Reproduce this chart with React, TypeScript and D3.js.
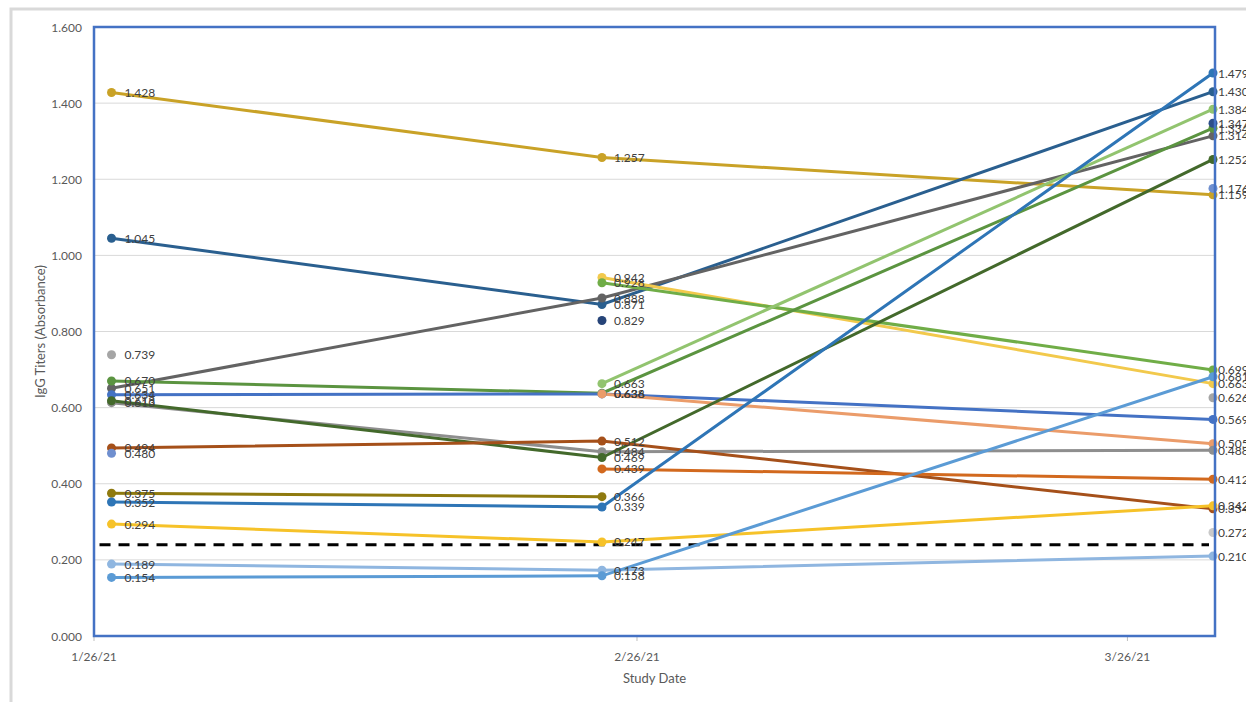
import React from "react";
import * as d3 from "d3";

const dates = ["2021-01-27", "2021-02-24", "2021-03-31"];
const xTicks = ["2021-01-26", "2021-02-26", "2021-03-26"];
const yTicks = [0, 0.2, 0.4, 0.6, 0.8, 1.0, 1.2, 1.4, 1.6];
const cutoff = 0.24;

// each series: values at the three study dates (null = not measured)
const seriesValues: (number | null)[][] = [
  [1.428, 1.257, 1.159],
  [1.045, 0.871, 1.43],
  [0.651, 0.888, 1.314],
  [null, 0.942, 0.663],
  [null, 0.928, 0.699],
  [0.67, 0.638, 1.334],
  [0.634, 0.636, 0.569],
  [null, 0.636, 0.505],
  [null, 0.663, 1.384],
  [0.613, 0.484, 0.488],
  [0.618, 0.469, 1.252],
  [0.494, 0.512, 0.334],
  [null, 0.439, 0.412],
  [0.375, 0.366, null],
  [0.352, 0.339, 1.479],
  [0.294, 0.247, 0.342],
  [0.189, 0.173, 0.21],
  [0.154, 0.158, 0.681],
  [0.739, null, 0.626],
  [0.48, null, 1.176],
  [null, 0.829, null],
  [null, null, 1.347],
  [null, null, 0.272],
];
const seriesColors = [
  "#C9A227", "#2A5F8F", "#636363", "#F2C94C", "#70AD47", "#5B9440",
  "#4472C4", "#EB9C6A", "#92C46F", "#8E8E8E", "#43692B", "#A5501A",
  "#D2691E", "#8F7A0F", "#2E75B6", "#F6C229", "#8FB6E0", "#5B9BD5",
  "#A5A5A5", "#6F8FCF", "#264478", "#2D4F8A", "#C9C9C9",
];

const W = 1246;
const H = 702;
const L = 94, R = 1215, T = 27, B = 636;
const FONT = "Lato, 'Open Sans', sans-serif";

export default function App() {
  const parse = (s: string) => new Date(s + "T00:00:00Z");
  const x = d3.scaleUtc().domain([parse("2021-01-26"), parse("2021-03-31")]).range([L, R]);
  const y = d3.scaleLinear().domain([0, 1.6]).range([B, T]);
  const fmtDate = d3.utcFormat("%-m/%-d/%y");
  const line = d3
    .line<number | null>()
    .defined((d) => d !== null)
    .x((_, i) => x(parse(dates[i])))
    .y((d) => y(d as number));
  const px = (i: number) => x(parse(dates[i])) - (i === 2 ? 2 : 0);
  const labelOffset = [13, 12, 5];

  return (
    <svg
      width={W}
      height={H}
      style={{ position: "absolute", left: 0, top: 0, background: "#fff" }}
      fontFamily={FONT}
    >
      <rect x={11} y={9} width={W + 20} height={H + 20} fill="#fff" stroke="#D9D9D9" strokeWidth={3} />
      {yTicks.slice(1, -1).map((t) => (
        <line key={t} x1={L} x2={R} y1={y(t)} y2={y(t)} stroke="#D9D9D9" strokeWidth={1} />
      ))}
      {yTicks.map((t) => (
        <text key={t} x={82} y={y(t)} textAnchor="end" dominantBaseline="central" fontSize={12} fill="#595959">
          {t.toFixed(3)}
        </text>
      ))}
      {xTicks.map((t) => (
        <g key={t}>
          <line x1={x(parse(t))} x2={x(parse(t))} y1={B} y2={B + 5} stroke="#BFBFBF" />
          <text x={x(parse(t))} y={656} textAnchor="middle" dominantBaseline="central" fontSize={12} fill="#595959">
            {fmtDate(parse(t))}
          </text>
        </g>
      ))}
      <text x={(L + R) / 2} y={678} textAnchor="middle" dominantBaseline="central" fontSize={13} fill="#595959">
        Study Date
      </text>
      <text
        transform={`translate(40,${(T + B) / 2}) rotate(-90)`}
        textAnchor="middle"
        dominantBaseline="central"
        fontSize={13}
        fill="#595959"
      >
        IgG Titers (Absorbance)
      </text>
      <line
        x1={px(0) - 12}
        x2={px(2) - 4}
        y1={y(cutoff)}
        y2={y(cutoff)}
        stroke="#000"
        strokeWidth={3}
        strokeDasharray="11 8"
      />
      {seriesValues.map((vals, si) => (
        <path
          key={"l" + si}
          d={d3.line<number | null>().defined((d) => d !== null).x((_, i) => px(i)).y((d) => y(d as number))(vals) || ""}
          fill="none"
          stroke={seriesColors[si]}
          strokeWidth={3}
        />
      ))}
      {seriesValues.map((vals, si) =>
        vals.map((v, i) =>
          v === null ? null : (
            <circle key={"c" + si + "-" + i} cx={px(i)} cy={y(v)} r={4.5} fill={seriesColors[si]} />
          )
        )
      )}
      {seriesValues.map((vals, si) =>
        vals.map((v, i) =>
          v === null ? null : (
            <text
              key={"t" + si + "-" + i}
              x={px(i) + labelOffset[i]}
              y={y(v)}
              dominantBaseline="central"
              fontSize={12}
              fill="#404040"
            >
              {v.toFixed(3)}
            </text>
          )
        )
      )}
      <rect x={L} y={T} width={R - L} height={B - T} fill="none" stroke="#4472C4" strokeWidth={2.5} />
    </svg>
  );
}
